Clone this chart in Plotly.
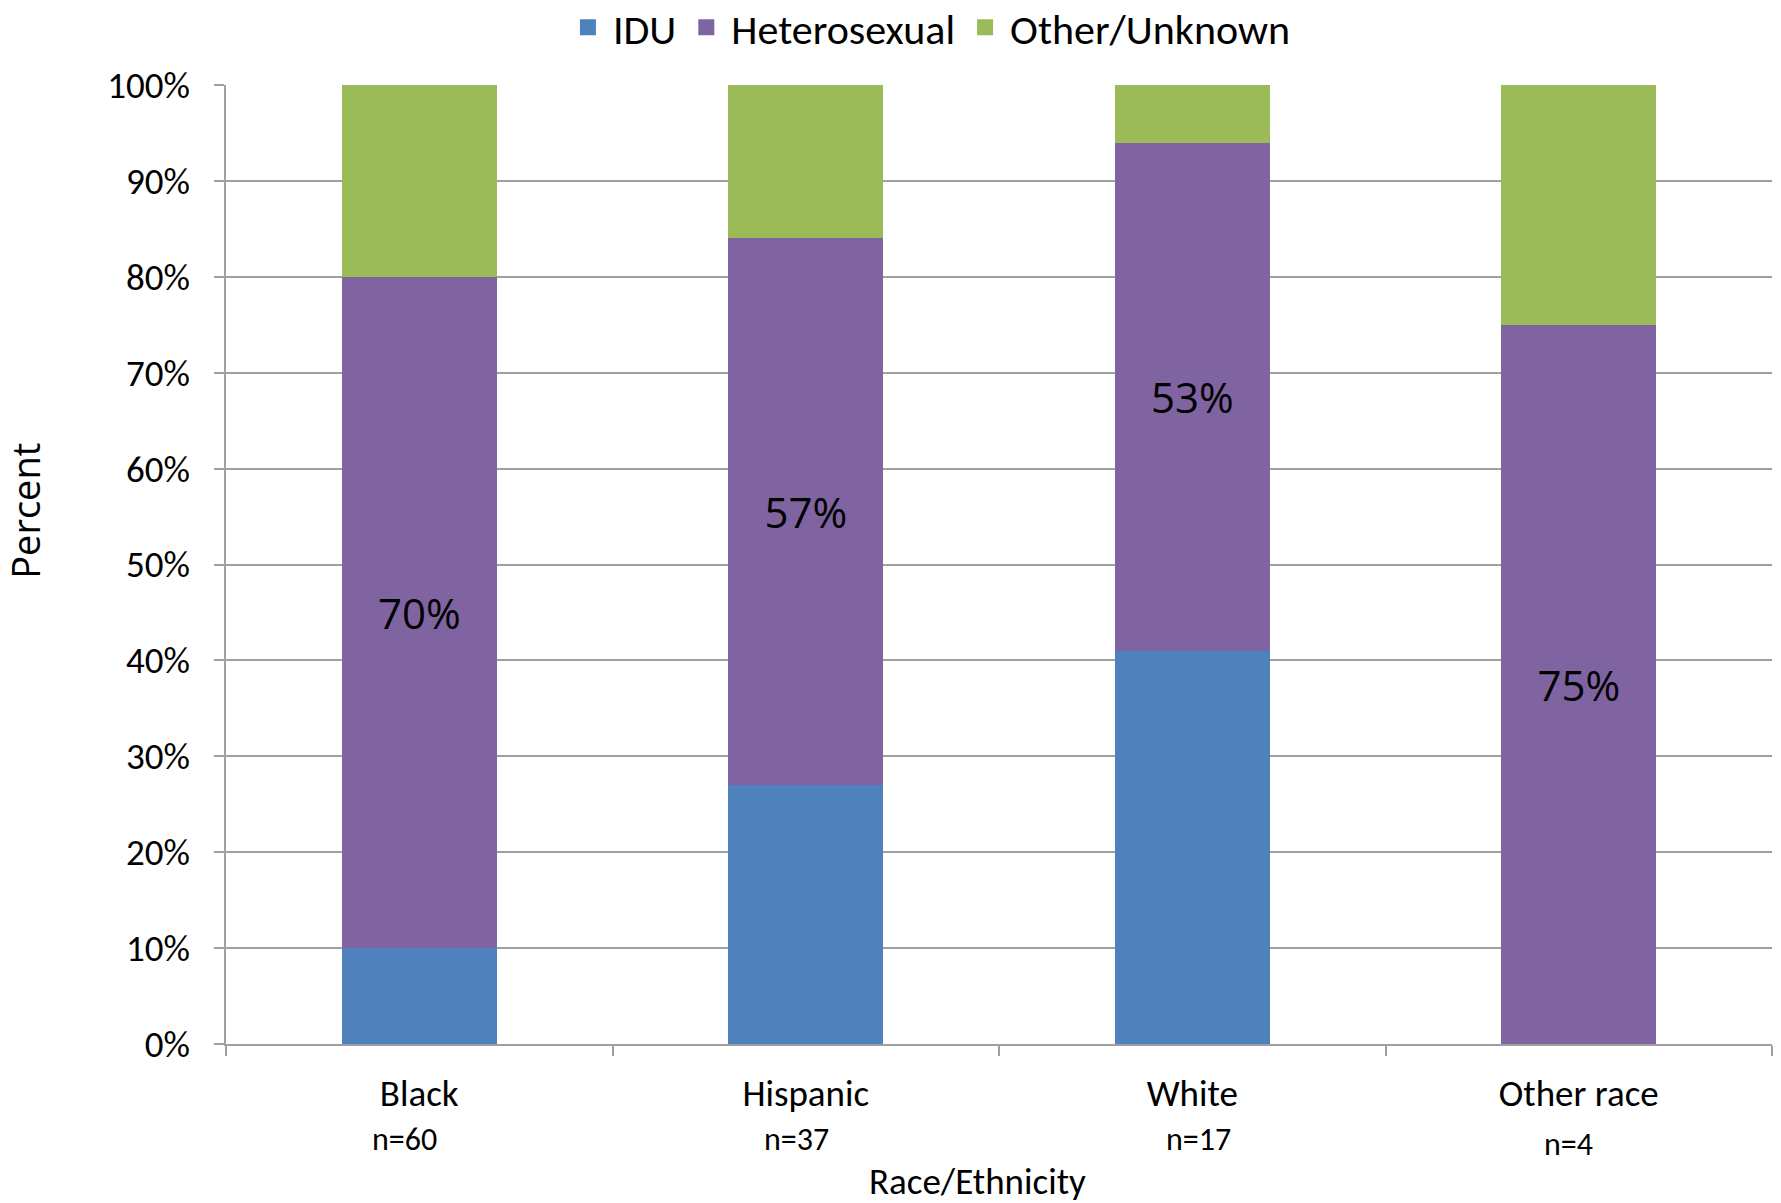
import plotly.graph_objects as go

categories = ["Black", "Hispanic", "White", "Other race"]
n_labels = ["n=60", "n=37", "n=17", "n=4"]
idu = [10, 27, 41, 0]
hetero = [70, 57, 53, 75]
other = [20, 16, 6, 25]
hetero_text = ["70%", "57%", "53%", "75%"]
y_ticks = [0, 10, 20, 30, 40, 50, 60, 70, 80, 90, 100]
y_tick_labels = [f"{v}%" for v in y_ticks]
x_title = "Race/Ethnicity"
y_title = "Percent"
series_names = ["IDU", "Heterosexual", "Other/Unknown"]
series_colors = ["#4F81BD", "#8064A2", "#9BBB59"]

FONT = "Carlito, Lato, 'Open Sans', sans-serif"
FONT2 = "'Open Sans', sans-serif"

fig = go.Figure()
for name, vals, col in zip(series_names, [idu, hetero, other], series_colors):
    kw = {}
    if name == "Heterosexual":
        kw = dict(text=hetero_text, textposition="inside", insidetextanchor="middle",
                  textangle=0, textfont=dict(family=FONT2, size=42, color="black"))
    fig.add_trace(go.Bar(name=name, x=categories, y=vals, marker_color=col,
                         marker_line_width=0, legendgroup=name, showlegend=False, **kw))
# legend entries with larger square keys (no data drawn)
for name, col in zip(series_names, series_colors):
    fig.add_trace(go.Scatter(name=name, x=[None], y=[None], mode="markers",
                             marker=dict(symbol="square", size=24, color=col),
                             legendgroup=name, showlegend=True, hoverinfo="skip"))

# small shifts of the n= labels (pixels)
n_shift = [-15, -9, 6, -10]
n_yshift = [0, 0, 0, -5]
for c, lab, dx, dy in zip(categories, n_labels, n_shift, n_yshift):
    fig.add_annotation(x=c, y=-0.1, xref="x", yref="paper", text=lab, showarrow=False,
                       xshift=dx, yshift=dy, yanchor="middle",
                       font=dict(family=FONT, size=32, color="black"))

# axis titles (placed as in the reference, not centred on the axes)
fig.add_annotation(x=0.486, y=-0.143, xref="paper", yref="paper", text=x_title,
                   showarrow=False, xanchor="center", yanchor="middle",
                   font=dict(family=FONT, size=37, color="black"))
fig.add_annotation(x=-0.130, y=0.556, xref="paper", yref="paper", text=y_title,
                   showarrow=False, textangle=-90, xanchor="center", yanchor="middle",
                   font=dict(family=FONT2, size=38, color="black"))

fig.update_layout(
    width=1781, height=1203,
    margin=dict(l=226, r=9, t=85, b=159, autoexpand=False),
    barmode="stack", bargap=0.6,
    plot_bgcolor="white", paper_bgcolor="white",
    font=dict(family=FONT, size=37, color="black"),
    uniformtext=dict(mode="show", minsize=10),
    legend=dict(orientation="h", x=0.455, xref="paper", xanchor="center",
                y=1.06, yanchor="middle", font=dict(size=42, family=FONT),
                traceorder="normal", itemsizing="trace", itemwidth=40),
    showlegend=True,
)
fig.update_xaxes(
    showline=True, linecolor="#A0A0A0", linewidth=2,
    ticks="outside", tickson="boundaries", ticklen=10, tickcolor="#A0A0A0", tickwidth=1.5,
    ticklabelstandoff=16,
    tickfont=dict(family=FONT, size=37),
    showgrid=False,
)
fig.update_yaxes(
    range=[0, 100], tickvals=y_ticks, ticktext=y_tick_labels,
    showline=True, linecolor="#A0A0A0", linewidth=1.5,
    showgrid=True, gridcolor="#A0A0A0", gridwidth=2,
    ticks="outside", ticklen=10, tickcolor="#A0A0A0", tickwidth=1.5,
    ticklabelstandoff=17,
    tickfont=dict(family=FONT, size=37),
    zeroline=False,
)

fig.write_html("out.html", config={"displayModeBar": False},
               post_script="document.body.style.margin='0';document.body.style.overflow='hidden';")
